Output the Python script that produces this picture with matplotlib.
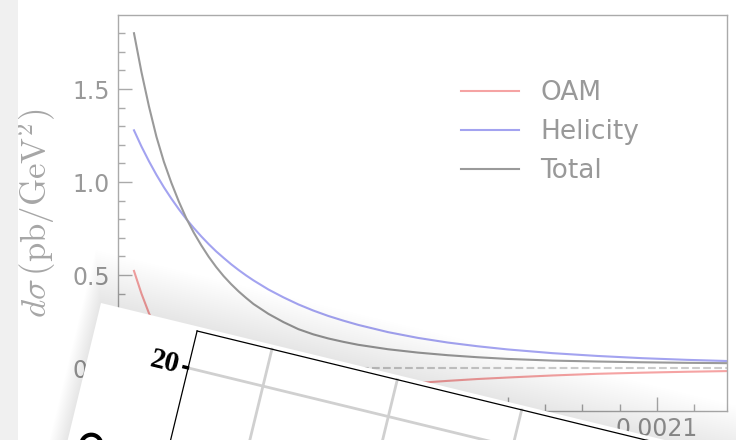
import matplotlib
matplotlib.use("Agg")
import matplotlib.pyplot as plt
from matplotlib.ticker import MultipleLocator, FormatStrFormatter
from matplotlib.transforms import Affine2D
from matplotlib.patches import Rectangle, Circle

plt.rcParams['mathtext.fontset'] = 'cm'
plt.rcParams['font.family'] = ['DejaVu Sans']

# kinematic variable
x_vals = [0.00175, 0.001755, 0.00176, 0.001765, 0.00177, 0.001775, 0.00178, 0.001785,
          0.00179, 0.001795, 0.00180, 0.001805, 0.00181, 0.001815, 0.00182, 0.001825,
          0.00183, 0.00184, 0.00185, 0.00186, 0.00187, 0.00188, 0.00189, 0.00190,
          0.00192, 0.00194, 0.00196, 0.00198, 0.00200, 0.00203, 0.00206, 0.00209,
          0.00212, 0.00215]

# cross-section contributions (pb/GeV^2)
oam = [0.522, 0.400, 0.295, 0.205, 0.137, 0.085, 0.041, 0.004,
       -0.025, -0.048, -0.068, -0.084, -0.098, -0.107, -0.115, -0.121,
       -0.127, -0.131, -0.133, -0.133, -0.128, -0.121, -0.114, -0.107,
       -0.092, -0.080, -0.069, -0.059, -0.051, -0.040, -0.031, -0.025,
       -0.020, -0.016]
helicity = [1.278, 1.191, 1.112, 1.039, 0.972, 0.911, 0.854, 0.801,
            0.753, 0.708, 0.666, 0.627, 0.592, 0.558, 0.527, 0.498,
            0.471, 0.422, 0.380, 0.342, 0.309, 0.280, 0.255, 0.232,
            0.193, 0.162, 0.137, 0.117, 0.100, 0.080, 0.065, 0.053,
            0.044, 0.037]
total = [1.800, 1.591, 1.407, 1.244, 1.109, 0.996, 0.895, 0.805,
         0.728, 0.660, 0.598, 0.543, 0.494, 0.451, 0.412, 0.377,
         0.344, 0.291, 0.247, 0.209, 0.181, 0.159, 0.141, 0.125,
         0.101, 0.083, 0.069, 0.058, 0.049, 0.040, 0.035, 0.031,
         0.028, 0.026]

series_names = ['OAM', 'Helicity', 'Total']
series_colors = ['#f5a3a3', '#a3a3f0', '#9a9a9a']

W, H = 736, 440
fig = plt.figure(figsize=(W / 100, H / 100), dpi=100)
fig.patch.set_facecolor('white')

ax = fig.add_axes([118 / W, 1 - 411 / H, 609 / W, 396 / H])
for y, name, col in zip([oam, helicity, total], series_names, series_colors):
    ax.plot(x_vals, y, color=col, lw=1.5, label=name)
ax.axhline(0, color='#cccccc', lw=1.5, ls='--', zorder=0)

ax.set_xlim(0.0017393, 0.0021468)
ax.set_ylim(-0.231, 1.898)
ax.xaxis.set_major_locator(MultipleLocator(0.0001))
ax.xaxis.set_minor_locator(MultipleLocator(0.000025))
ax.xaxis.set_major_formatter(FormatStrFormatter('%.4f'))
ax.yaxis.set_major_locator(MultipleLocator(0.5))
ax.yaxis.set_minor_locator(MultipleLocator(0.1))
ax.tick_params(which='both', direction='in', color='#aaaaaa', labelcolor='#999999',
               labelsize=17, width=1.0)
ax.tick_params(which='major', length=10)
ax.tick_params(which='minor', length=5)
ax.tick_params(axis='y', pad=6)
ax.tick_params(axis='x', pad=4.5)
for sp in ax.spines.values():
    sp.set_color('#aaaaaa')
    sp.set_linewidth(1.0)

ax.set_ylabel(r'$d\sigma\,(\mathrm{pb/GeV^2})$', fontsize=25, color='#a6a6a6', va='center')
ax.yaxis.set_label_coords(-0.135, 0.5)

ax.legend(loc='center left', bbox_to_anchor=(0.5632, 0.7045), frameon=False, fontsize=19,
          labelcolor='#999999', handlelength=2.2, handletextpad=0.8, labelspacing=0.5,
          borderpad=0, borderaxespad=0)

# page lying on top of the plot, in pixel coordinates
ov = fig.add_axes([0, 0, 1, 1], zorder=10)
ov.set_xlim(0, W)
ov.set_ylim(H, 0)
ov.axis('off')
ov.patch.set_alpha(0)

ov.add_patch(Rectangle((0, 0), 18, H, fc='#f0f0f0', lw=0))

page_angle = 13.66
page = Affine2D().rotate_deg(page_angle).translate(101, 303) + ov.transData

# soft drop shadow around the page
n_layers = 25
for i in range(1, n_layers + 1):
    d = 50 * i / n_layers
    ov.add_patch(Rectangle((-0.35 * d, -d), 1200, 600, transform=page,
                           fc='#808080', alpha=0.0075, lw=0))
ov.add_patch(Rectangle((0, 0), 1200, 600, transform=page, fc='white', lw=0))

# grid and frame of the printed plot
grid_c = '#d0d0d0'
for gy in [42.5, 170.5]:
    ov.plot([100, 1200], [gy, gy], transform=page, color=grid_c, lw=2)
for gx in [177, 306, 434, 563, 692, 820]:
    ov.plot([gx, gx], [4.5, 600], transform=page, color=grid_c, lw=2)
ov.plot([100, 1200], [4.5, 4.5], transform=page, color='black', lw=0.9)
ov.plot([100, 100], [4.5, 600], transform=page, color='black', lw=0.9)
ov.plot([94, 101], [42.5, 42.5], transform=page, color='black', lw=2.5,
        solid_capstyle='butt')
ov.text(91, 42.5, '20', transform=page, ha='right', va='center',
        rotation=-page_angle, rotation_mode='anchor', fontsize=21,
        fontweight='bold', family='Liberation Serif', color='black')
ov.add_patch(Circle((24, 140), 10, transform=page, fill=False, ec='black', lw=3))

fig.savefig('out.png', dpi=100)
